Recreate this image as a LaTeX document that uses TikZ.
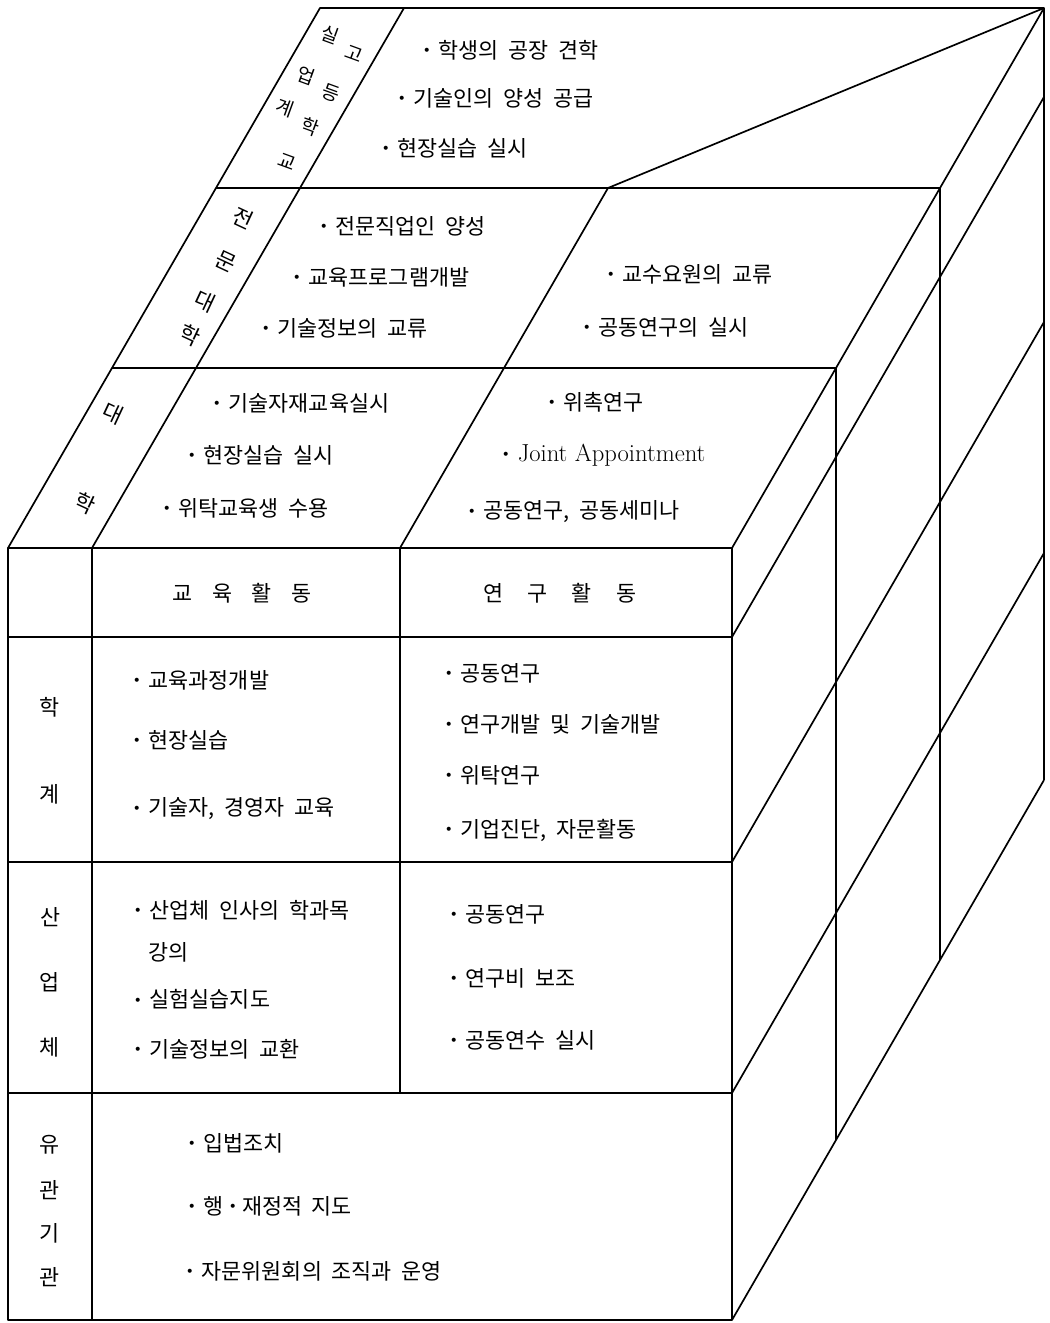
\documentclass[tikz,border=0pt]{standalone}
\usepackage{fontspec}
\newfontfamily\krfont[WordSpace=2]{Noto Sans CJK KR}
\usetikzlibrary{calc}

\newcommand{\bulletglyph}{\raisebox{3pt}{\rmfamily\fontsize{10}{10}\selectfont\textbullet}}
\newcommand{\dotmark}{\bulletglyph\hspace{0.3em}}

\begin{document}
\begin{tikzpicture}[
    x=0.025cm, y=-0.025cm,
    frame/.style={draw=black, line width=1.2pt, line join=round},
    txt/.style={font=\krfont\fontsize{15.5}{18}\selectfont, inner sep=0pt},
    item/.style={txt, anchor=west},
    tilt/.style={txt, rotate=-25},
    tiltsmall/.style={font=\krfont\fontsize{13.5}{16}\selectfont, inner sep=0pt, rotate=-20},
]

\def\dx{104}
\def\dy{180}

\useasboundingbox (0,0) rectangle (1050,1323);

% Front face corners
\coordinate (FL) at (8,548);
\coordinate (FC) at (92,548);
\coordinate (FM) at (400,548);
\coordinate (FR) at (732,548);
\coordinate (BL) at (8,1320);
\coordinate (BR) at (732,1320);
\coordinate (D) at (\dx,-\dy);   % one layer back

% Front face
\draw[frame] (FL) rectangle (BR);
\draw[frame] (FC) -- (92,1320);
\draw[frame] (FM) -- (400,1093);
\foreach \y in {637,862,1093}
    \draw[frame] (8,\y) -- (732,\y);

% Stacked slanted layers (대학, 전문대학, 실업계 고등학교)
\draw[frame] (FL) -- ($(FL)+3*(D)$) -- ($(FR)+3*(D)$) -- (FR);
\draw[frame] (FC) -- ($(FC)+3*(D)$);
\draw[frame] (FM) -- ($(FM)+2*(D)$) -- ($(FR)+3*(D)$);
\foreach \k in {1,2}
    \draw[frame] ($(FL)+\k*(D)$) -- ($(FR)+\k*(D)$);

% Right side face
\foreach \k in {1,2,3}
    \draw[frame] ($(FR)+\k*(D)$) -- ($(BR)+\k*(D)$);
\foreach \y in {637,862,1093,1320}
    \draw[frame] (732,\y) -- ($(732,\y)+3*(D)$);

% Layer 3: 실업계 고등학교
\node[tiltsmall] (sg1) at (330,35) {실};
\node[tiltsmall] (sg2) at (354,54) {고};
\node[tiltsmall] (sg3) at (306,76) {업};
\node[tiltsmall] (sg4) at (331,93) {등};
\node[tiltsmall] (sg5) at (285,108) {계};
\node[tiltsmall] (sg6) at (310,127) {학};
\node[tiltsmall] (sg7) at (287,162) {교};
\node[item] (sa1) at (421,50) {\dotmark 학생의 공장 견학};
\node[item] (sa2) at (396,98) {\dotmark 기술인의 양성 공급};
\node[item] (sa3) at (380,148) {\dotmark 현장실습 실시};

% Layer 2: 전문대학
\node[tilt] (jm1) at (243,218) {전};
\node[tilt] (jm2) at (226,262) {문};
\node[tilt] (jm3) at (205,301) {대};
\node[tilt] (jm4) at (190,335) {학};
\node[item] (ja1) at (318,226) {\dotmark 전문직업인 양성};
\node[item] (ja2) at (291,277) {\dotmark 교육프로그램개발};
\node[item] (ja3) at (260,328) {\dotmark 기술정보의 교류};
\node[item] (jb1) at (605,274) {\dotmark 교수요원의 교류};
\node[item] (jb2) at (581,327) {\dotmark 공동연구의 실시};

% Layer 1: 대학
\node[tilt] (dh1) at (113,413) {대};
\node[tilt] (dh2) at (85,503) {학};
\node[item] (da1) at (211,403) {\dotmark 기술자재교육실시};
\node[item] (da2) at (186,455) {\dotmark 현장실습 실시};
\node[item] (da3) at (161,508) {\dotmark 위탁교육생 수용};
\node[item] (db1) at (546,402) {\dotmark 위촉연구};
\node[item] (db2) at (500,455) {\dotmark{\rmfamily\fontsize{17.5}{20}\selectfont Joint Appointment}};
\node[item] (db3) at (466,512) {\dotmark 공동연구, 공동세미나};

% Column heads
\node[txt] (hedu) at (242,593) {교\hspace{0.9em}육\hspace{0.9em}활\hspace{0.9em}동};
\node[txt] (hres) at (560,593) {연\hspace{1.1em}구\hspace{1.1em}활\hspace{1.1em}동};

% Row: 학계
\node[txt] (hk1) at (50,707) {학};
\node[txt] (hk2) at (50,794) {계};
\node[item] (ha1) at (131,680) {\dotmark 교육과정개발};
\node[item] (ha2) at (131,740) {\dotmark 현장실습};
\node[item] (ha3) at (131,809) {\dotmark 기술자, 경영자 교육};
\node[item] (hb1) at (443,673) {\dotmark 공동연구};
\node[item] (hb2) at (443,724) {\dotmark 연구개발 및 기술개발};
\node[item] (hb3) at (443,775) {\dotmark 위탁연구};
\node[item] (hb4) at (443,830) {\dotmark 기업진단, 자문활동};

% Row: 산업체
\node[txt] (su1) at (51,917) {산};
\node[txt] (su2) at (50,982) {업};
\node[txt] (su3) at (50,1047) {체};
\node[item] (sb1) at (132,910) {\dotmark 산업체 인사의 학과목};
\node[item] (sb1b) at (148,952) {강의};
\node[item] (sb2) at (132,999) {\dotmark 실험실습지도};
\node[item] (sb3) at (132,1049) {\dotmark 기술정보의 교환};
\node[item] (sc1) at (448,914) {\dotmark 공동연구};
\node[item] (sc2) at (448,978) {\dotmark 연구비 보조};
\node[item] (sc3) at (448,1040) {\dotmark 공동연수 실시};

% Row: 유관기관
\node[txt] (yg1) at (50,1145) {유};
\node[txt] (yg2) at (50,1190) {관};
\node[txt] (yg3) at (50,1233) {기};
\node[txt] (yg4) at (50,1277) {관};
\node[item] (ya1) at (186,1143) {\dotmark 입법조치};
\node[item] (ya2) at (186,1206) {\dotmark 행\,\bulletglyph\,재정적 지도};
\node[item] (ya3) at (184,1271) {\dotmark 자문위원회의 조직과 운영};

\end{tikzpicture}
\end{document}
